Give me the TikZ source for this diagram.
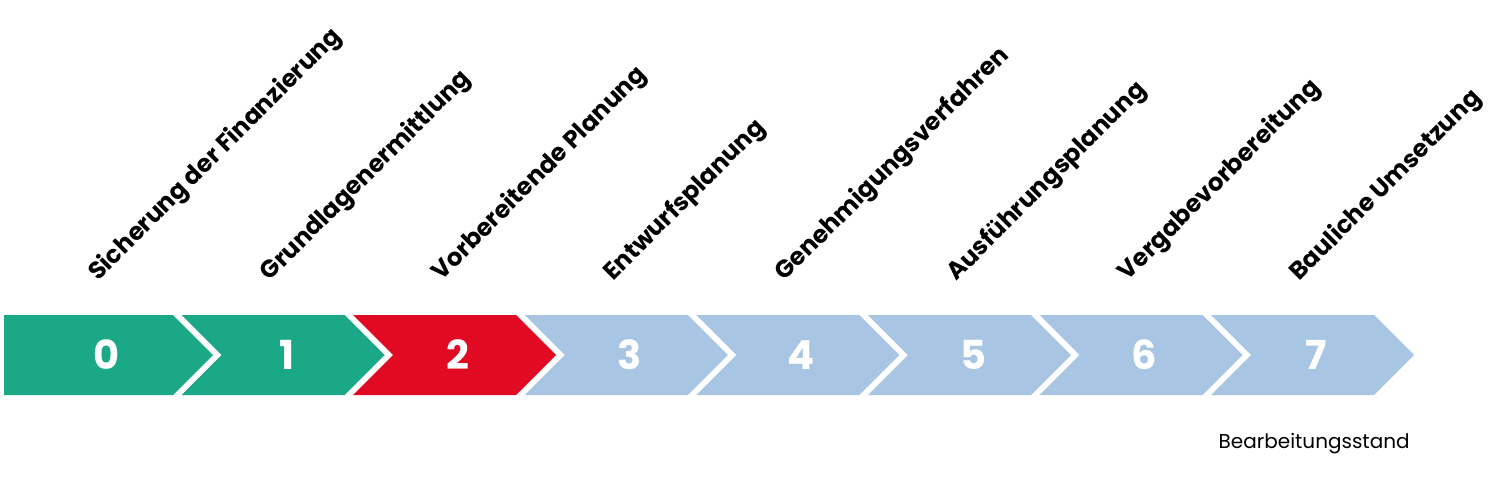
\documentclass[tikz,border=0pt]{standalone}
\usepackage{fontspec}
\setmainfont{Poppins}
\definecolor{phasegreen}{RGB}{27,168,134}
\definecolor{phasered}{RGB}{225,10,35}
\definecolor{phaseblue}{RGB}{168,198,228}

\begin{document}
\begin{tikzpicture}[
        x=0.5pt, y=-0.5pt,
        phasenum/.style = {text=white, inner sep=0pt, font=\fontsize{20}{24}\selectfont\bfseries},
        phaselabel/.style = {rotate=45, anchor=base west, inner sep=0pt, font=\fontsize{12.2}{14}\selectfont\bfseries}
    ]
    \useasboundingbox (0,0) rectangle (1500,484);

    % Phase 0 ohne Kerbe
    \fill[phasegreen] (4,315) -- (173,315) -- (213,355) -- (173,395) -- (4,395) -- cycle;
    \node[phasenum] (num0) at (107,355) {0};

    \foreach \i/\col in {1/phasegreen, 2/phasered, 3/phaseblue, 4/phaseblue, 5/phaseblue, 6/phaseblue, 7/phaseblue} {
        \pgfmathsetmacro{\R}{173+171.6*\i}
        \fill[\col] (\R-163,315) -- (\R,315) -- (\R+40,355) -- (\R,395) -- (\R-163,395) -- (\R-123,355) -- cycle;
        \node[phasenum] (num\i) at (\R-58,355) {\i};
    }

    \foreach \i/\txt in {0/Sicherung der Finanzierung, 1/Grundlagenermittlung, 2/Vorbereitende Planung,
            3/Entwurfsplanung, 4/Genehmigungsverfahren, 5/Ausführungsplanung,
            6/Vergabevorbereitung, 7/Bauliche Umsetzung} {
        \node[phaselabel] (label\i) at (98+171.6*\i,282) {\txt};
    }

    \node[anchor=base east, inner sep=0pt, font=\fontsize{10}{12}\selectfont] (stand) at (1410,448) {Bearbeitungsstand};

\end{tikzpicture}
\end{document}
